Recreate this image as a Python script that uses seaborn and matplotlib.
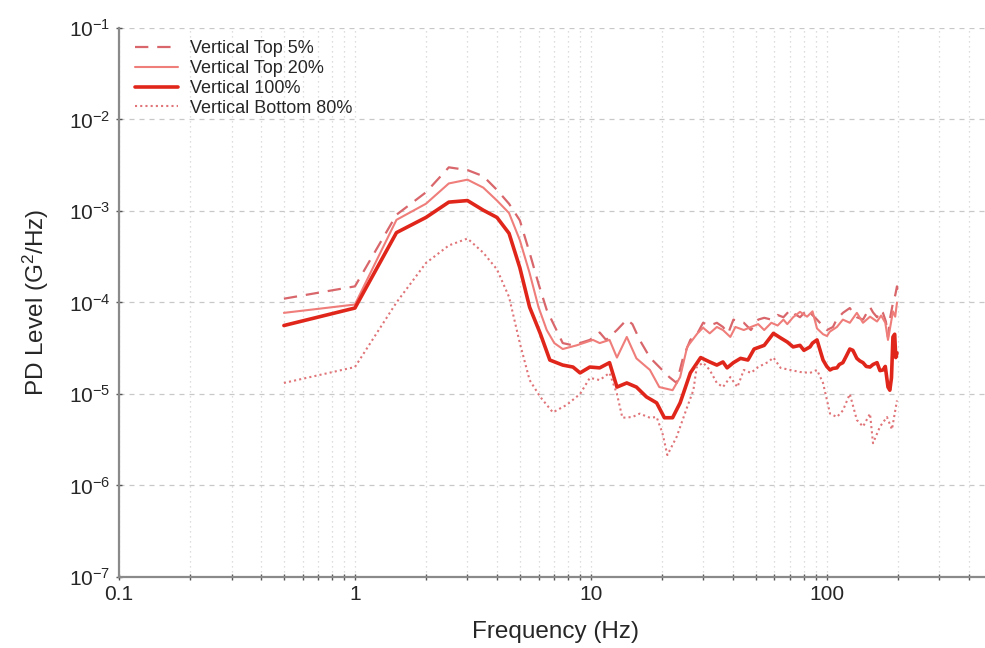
import numpy as np
import pandas as pd
import matplotlib
matplotlib.use("Agg")
import matplotlib.pyplot as plt
import matplotlib.ticker as ticker
import seaborn as sns

# ---- data (Hz, G^2/Hz) ----
freq_top5 = [0.5, 1, 1.5, 2, 2.5, 3, 3.5, 4, 4.5, 5, 5.5, 6, 6.5, 7.6, 8.4, 9.9,
             10.9, 11.6, 12.9, 14.2, 15.0, 16.1, 17.8, 19.5, 21.5, 23.1, 24.6,
             26.4, 28.3, 29.9, 31.9, 34.2, 36.3, 38.2, 40.2, 42.0, 44.5, 47.7,
             51.2, 54.3, 58.2, 61.9, 65.5, 70.0, 73.0, 77.0, 82.5, 85.0, 90.9,
             96.4, 100.2, 106.2, 110.0, 117.0, 125.2, 130.0, 134.1, 142.4,
             152.5, 157.0, 163.3, 168.0, 173.0, 178.0, 181.7, 185.0, 190.7,
             195.0, 198.4, 200.0]
top5 = [1.1e-4, 1.5e-4, 9.1e-4, 1.6e-3, 3.0e-3, 2.8e-3, 2.4e-3, 1.7e-3, 1.2e-3,
        7.9e-4, 3.5e-4, 1.6e-4, 8.3e-5, 3.6e-5, 3.4e-5, 3.9e-5,
        4.7e-5, 3.9e-5, 5.0e-5, 6.5e-5, 5.8e-5, 3.9e-5, 2.5e-5, 1.97e-5,
        1.53e-5, 1.32e-5, 2.5e-5, 3.9e-5, 4.6e-5, 6.0e-5, 5.6e-5, 6.0e-5,
        5.4e-5, 4.6e-5, 6.5e-5, 6.2e-5, 6.0e-5, 5.0e-5, 6.5e-5, 6.8e-5,
        6.5e-5, 7.3e-5, 6.9e-5, 8.3e-5, 7.5e-5, 6.9e-5, 8.3e-5, 7.7e-5,
        6.5e-5, 5.5e-5, 5.0e-5, 5.4e-5, 6.5e-5, 7.7e-5, 8.7e-5, 7.5e-5,
        6.9e-5, 6.5e-5, 8.9e-5, 7.8e-5, 6.9e-5, 8.2e-5, 7.7e-5, 6.2e-5,
        4.2e-5, 6.5e-5, 9.9e-5, 1.2e-4, 1.5e-4, 1.3e-4]

freq_top20 = [0.5, 1, 1.5, 2, 2.5, 3, 3.5, 4, 4.5, 5, 5.5, 6, 6.5, 7, 7.6, 8.7,
              10.2, 10.9, 12.0, 12.9, 14.2, 15.6, 17.8, 19.5, 22.2, 23.9, 25.6,
              28.3, 29.9, 31.9, 34.2, 36.3, 39.0, 41.0, 44.5, 47.7, 51.2, 54.3,
              58.2, 61.9, 65.5, 68.0, 72.0, 77.0, 82.5, 87.0, 90.9, 96.4, 100.2,
              103.0, 110.4, 117.0, 125.2, 134.1, 142.4, 152.5, 163.3, 170.0,
              177.0, 181.7, 186.0, 190.7, 195.0, 198.4]
top20 = [7.7e-5, 9.5e-5, 8.0e-4, 1.2e-3, 2.0e-3, 2.2e-3, 1.8e-3, 1.3e-3, 9.5e-4,
         4.8e-4, 2.1e-4, 8.9e-5, 5.0e-5, 3.6e-5, 3.1e-5, 3.4e-5,
         3.9e-5, 3.6e-5, 3.9e-5, 2.5e-5, 4.2e-5, 2.45e-5, 1.83e-5, 1.19e-5,
         1.1e-5, 1.53e-5, 3.27e-5, 4.6e-5, 5.3e-5, 4.6e-5, 5.4e-5, 5.0e-5,
         4.2e-5, 5.4e-5, 5.0e-5, 5.4e-5, 5.8e-5, 5.0e-5, 6.0e-5, 5.6e-5,
         6.5e-5, 5.8e-5, 6.9e-5, 7.9e-5, 7.0e-5, 8.0e-5, 5.2e-5, 4.5e-5,
         4.3e-5, 4.8e-5, 5.4e-5, 6.5e-5, 6.0e-5, 7.7e-5, 6.0e-5, 7.0e-5,
         6.2e-5, 7.2e-5, 6.0e-5, 3.9e-5, 5.5e-5, 8.0e-5, 7.0e-5, 1.0e-4]

freq_all = [0.5, 1, 1.5, 2, 2.5, 3, 3.5, 4, 4.5, 5, 5.5, 6.1, 6.7, 7.6, 8.4, 9.0,
            9.9, 10.9, 12.0, 12.9, 14.2, 15.6, 17.2, 19.0, 20.5, 22.2, 23.9,
            26.4, 29.2, 31.9, 34.2, 36.3, 37.8, 40.2, 43.1, 46.3, 49.2, 54.3,
            59.4, 63.7, 68.0, 72.0, 77.0, 80.0, 84.9, 87.0, 90.9, 93.0, 96.4,
            100.0, 103.2, 106.0, 110.4, 113.0, 117.0, 121.0, 125.2, 129.0,
            134.1, 138.0, 142.4, 147.0, 152.5, 157.0, 163.3, 168.0, 173.0,
            177.0, 181.7, 185.0, 188.0, 190.7, 194.0, 196.0, 198.4]
all100 = [5.6e-5, 8.7e-5, 5.8e-4, 8.5e-4, 1.25e-3, 1.3e-3, 1.02e-3, 8.5e-4,
          5.7e-4, 2.4e-4, 8.9e-5, 4.6e-5, 2.35e-5, 2.07e-5, 1.97e-5, 1.7e-5,
          1.97e-5, 1.93e-5, 2.2e-5, 1.19e-5, 1.32e-5, 1.19e-5, 9.3e-6, 8.0e-6,
          5.5e-6, 5.5e-6, 8.0e-6, 1.7e-5, 2.5e-5, 2.24e-5, 2.07e-5, 2.24e-5,
          1.93e-5, 2.2e-5, 2.45e-5, 2.35e-5, 3.1e-5, 3.4e-5, 4.6e-5, 4.1e-5,
          3.7e-5, 3.27e-5, 3.4e-5, 3.0e-5, 3.27e-5, 3.6e-5, 3.9e-5, 3.2e-5,
          2.35e-5, 2.0e-5, 1.83e-5, 1.9e-5, 1.93e-5, 2.1e-5, 2.2e-5, 2.6e-5,
          3.1e-5, 3.0e-5, 2.45e-5, 2.3e-5, 2.2e-5, 2.0e-5, 1.97e-5, 2.1e-5,
          2.2e-5, 1.8e-5, 1.83e-5, 2.0e-5, 1.19e-5, 1.1e-5, 1.5e-5, 4.2e-5,
          4.5e-5, 2.5e-5, 2.8e-5]

freq_bot80 = [0.5, 1, 1.5, 2, 2.5, 3, 3.5, 4, 4.5, 5, 5.5, 6.1, 6.9, 7.9, 9.0,
              9.9, 10.9, 12.0, 12.9, 13.6, 15.0, 16.1, 17.8, 19.0, 20.1, 21.1,
              23.1, 25.6, 27.2, 28.1, 29.9, 31.9, 34.2, 36.3, 39.0, 41.8, 44.5,
              47.7, 51.2, 56.5, 59.4, 63.7, 70.0, 77.0, 84.9, 90.9, 96.4, 103.2,
              110.4, 117.0, 125.2, 134.1, 142.4, 152.5, 157.0, 168.1, 179.9,
              188.9, 198.4]
bot80 = [1.32e-5, 1.97e-5, 1.0e-4, 2.7e-4, 4.2e-4, 5.0e-4, 3.5e-4, 2.3e-4,
         1.15e-4, 3.6e-5, 1.42e-5, 9.3e-6, 6.3e-6, 7.6e-6, 1.0e-5, 1.5e-5,
         1.42e-5, 1.7e-5, 1.0e-5, 5.5e-6, 5.6e-6, 6.1e-6, 5.5e-6, 5.6e-6,
         3.75e-6, 2.15e-6, 3.4e-6, 7.2e-6, 1.1e-5, 1.97e-5, 2.2e-5, 1.83e-5,
         1.32e-5, 1.19e-5, 1.53e-5, 1.19e-5, 1.83e-5, 1.7e-5, 1.97e-5, 2.24e-5,
         2.5e-5, 1.93e-5, 1.83e-5, 1.74e-5, 1.7e-5, 1.83e-5, 1.32e-5, 6.1e-6,
         5.6e-6, 6.6e-6, 1.0e-5, 5.2e-6, 4.4e-6, 6.1e-6, 2.9e-6, 4.4e-6,
         5.6e-6, 4.1e-6, 8.5e-6]

labels = ["Vertical Top 5%", "Vertical Top 20%", "Vertical 100%",
          "Vertical Bottom 80%"]
x_ticks = [0.1, 1, 10, 100]
y_ticks = [1e-7, 1e-6, 1e-5, 1e-4, 1e-3, 1e-2, 1e-1]


sns.set_theme(style="white")
plt.rcParams["font.family"] = ["Liberation Sans", "DejaVu Sans"]
plt.rcParams["mathtext.fontset"] = "custom"
plt.rcParams["mathtext.rm"] = "Liberation Sans"
plt.rcParams["mathtext.it"] = "Liberation Sans:italic"
plt.rcParams["mathtext.bf"] = "Liberation Sans:bold"

fig = plt.figure(figsize=(9.85, 6.48), dpi=100)
ax = fig.add_axes([0.1208, 0.1096, 0.886, 0.8472])

sns.lineplot(x=freq_top5, y=top5, ax=ax, color="#d8666b", lw=1.6,
             linestyle=(0, (6, 4)), label=labels[0])
sns.lineplot(x=freq_top20, y=top20, ax=ax, color="#ef7d7a", lw=1.5,
             label=labels[1])
sns.lineplot(x=freq_all, y=all100, ax=ax, color="#e0261b", lw=2.6,
             label=labels[2])
sns.lineplot(x=freq_bot80, y=bot80, ax=ax, color="#e07478", lw=1.5,
             linestyle=(0, (1, 1.5)), label=labels[3])

ax.set_xscale("log")
ax.set_yscale("log")
ax.set_xlim(0.1, 500)
ax.set_ylim(1e-7, 1e-1)

ax.xaxis.set_major_locator(ticker.FixedLocator(x_ticks))
ax.xaxis.set_major_formatter(ticker.FuncFormatter(lambda v, _: f"{v:g}"))
ax.xaxis.set_minor_locator(ticker.LogLocator(base=10, subs=np.arange(2, 10)))
ax.xaxis.set_minor_formatter(ticker.NullFormatter())
ax.yaxis.set_major_locator(ticker.FixedLocator(y_ticks))
ax.yaxis.set_major_formatter(ticker.LogFormatterMathtext())
ax.yaxis.set_minor_locator(ticker.NullLocator())

ax.grid(False)
ax.yaxis.grid(True, which="major", color="#c8c8c8", lw=0.9,
              linestyle=(0, (4, 4)))
ax.xaxis.grid(True, which="both", color="#d2d2d2", lw=0.9,
              linestyle=(0, (1, 3)))

for s in ["top", "right"]:
    ax.spines[s].set_visible(False)
for s in ["left", "bottom"]:
    ax.spines[s].set_color("#8a8a8a")
    ax.spines[s].set_linewidth(1.6)

ax.tick_params(axis="both", which="major", labelsize=15, color="#555555",
               length=5, width=1, direction="inout", left=True, bottom=True)
ax.tick_params(axis="x", which="minor", color="#555555", length=4, width=1,
               direction="inout", bottom=True)

ax.set_xlabel("Frequency (Hz)", fontsize=17.5, labelpad=12)
ax.set_ylabel("PD Level (G$^2$/Hz)", fontsize=17.5, labelpad=13)

ax.legend(loc="upper left", bbox_to_anchor=(0.018, 0.978), frameon=False,
          fontsize=13, handlelength=2.4, labelspacing=0.16, borderpad=0,
          borderaxespad=0, handletextpad=0.65)

fig.savefig("out.png", dpi=100)
